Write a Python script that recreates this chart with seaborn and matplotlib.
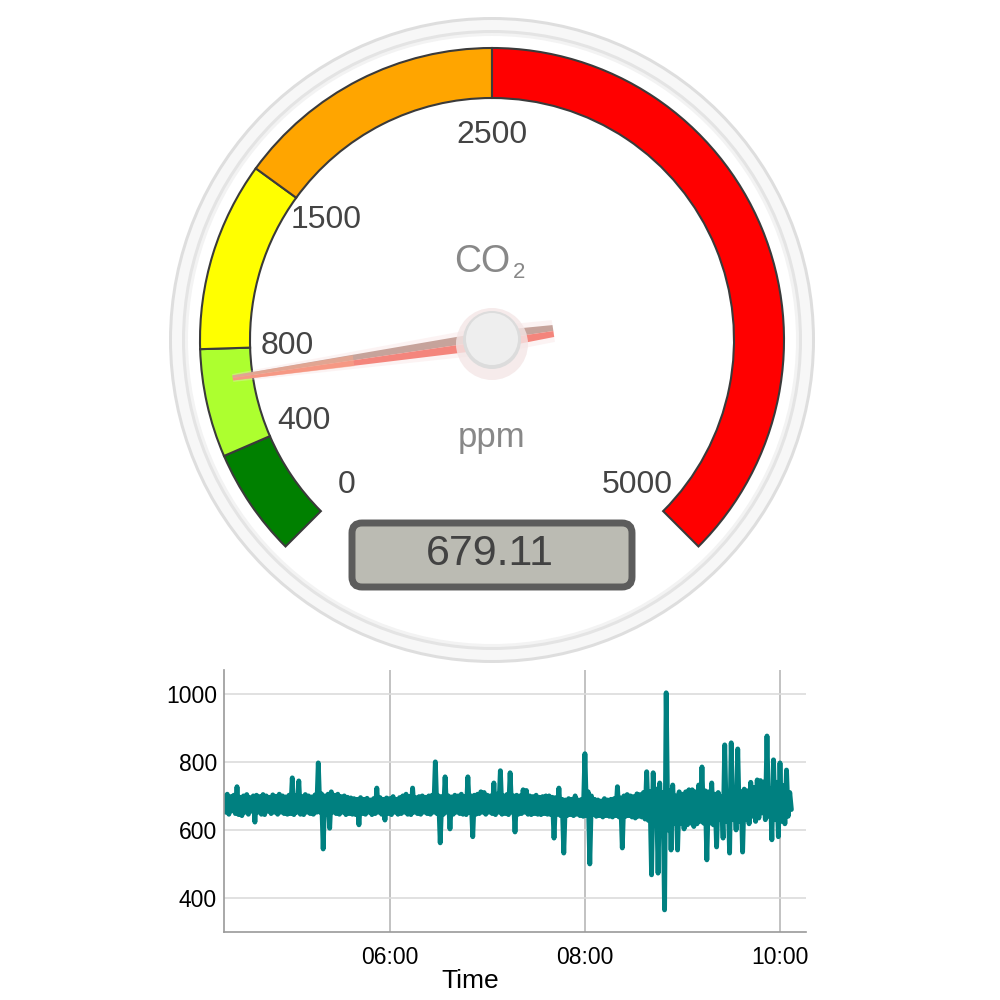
import numpy as np
import pandas as pd
import matplotlib
matplotlib.use("Agg")
import matplotlib.pyplot as plt
import matplotlib.dates as mdates
from matplotlib.patches import Wedge, Circle, Polygon, FancyBboxPatch
import seaborn as sns

# gauge data
band_edges = [0, 400, 800, 1500, 2500, 5000]
band_colors = ["#008000", "#adff2f", "#ffff00", "#ffa500", "#ff0000"]
tick_values = [0, 400, 800, 1500, 2500, 5000]
gauge_min, gauge_max = 0, 5000
current_value = 679.11

# CO2 readings from 04:18, one high and one low reading per 2-minute block
start_time = "2024-01-01 04:18"
co2_high = [
    700, 705, 698, 702, 727, 696, 700, 704, 695, 700,
    702, 698, 704, 700, 696, 703, 699, 705, 700, 697,
    702, 753, 700, 744, 698, 704, 700, 697, 703, 797,
    706, 700, 705, 712, 702, 705, 698, 700, 696, 694,
    692, 690, 695, 690, 693, 688, 692, 723, 695, 690,
    694, 692, 698, 690, 695, 700, 705, 698, 723, 695,
    698, 700, 696, 700, 702, 800, 700, 698, 756, 700,
    697, 702, 700, 705, 698, 756, 700, 702, 705, 712,
    710, 702, 700, 738, 705, 774, 700, 704, 768, 700,
    702, 700, 718, 716, 700, 698, 702, 696, 698, 700,
    700, 696, 695, 723, 690, 688, 692, 690, 700, 688,
    690, 824, 712, 700, 690, 688, 685, 692, 688, 690,
    692, 727, 694, 700, 704, 700, 698, 706, 704, 710,
    771, 712, 768, 720, 738, 710, 1003, 715, 732, 700,
    712, 705, 712, 718, 718, 712, 732, 785, 715, 712,
    738, 705, 710, 697, 850, 712, 856, 715, 838, 712,
    720, 715, 740, 725, 747, 745, 741, 876, 720, 806,
    740, 797, 730, 776, 710,
]
co2_low = [
    652, 646, 656, 648, 645, 642, 652, 646, 655, 623,
    652, 646, 645, 655, 648, 652, 646, 652, 648, 646,
    648, 645, 652, 646, 645, 652, 648, 646, 652, 652,
    544, 646, 605, 652, 648, 646, 652, 645, 648, 646,
    645, 615, 648, 646, 652, 645, 648, 652, 646, 629,
    648, 645, 652, 646, 648, 652, 646, 645, 652, 648,
    646, 652, 648, 646, 652, 648, 562, 646, 652, 603,
    646, 652, 648, 646, 645, 652, 580, 646, 648, 652,
    646, 652, 648, 645, 652, 646, 648, 645, 652, 594,
    646, 648, 652, 646, 645, 648, 646, 645, 648, 646,
    645, 576, 646, 642, 532, 642, 645, 642, 646, 642,
    640, 642, 500, 645, 640, 642, 638, 642, 640, 638,
    642, 638, 547, 640, 642, 638, 635, 640, 638, 632,
    628, 468, 620, 473, 615, 365, 600, 541, 620, 541,
    620, 603, 615, 620, 610, 618, 625, 620, 512, 620,
    615, 550, 630, 576, 625, 532, 630, 600, 625, 535,
    630, 618, 640, 625, 635, 650, 630, 640, 571, 630,
    580, 625, 618, 640, 660,
]
co2_ppm = [v for pair in zip(co2_high, co2_low) for v in pair]
times = pd.date_range(start_time, periods=len(co2_ppm), freq="1min")
df = pd.DataFrame({"Time": times, "CO2": co2_ppm})

sns.set_theme(style="whitegrid")
plt.rcParams["font.family"] = ["Liberation Sans", "DejaVu Sans"]

fig = plt.figure(figsize=(10, 10), dpi=100)

# ---- gauge (pixel-like coordinates, y up) ----
gax = fig.add_axes([0, 0, 1, 1])
gax.set_xlim(0, 1000)
gax.set_ylim(0, 1000)
gax.set_aspect("equal")
gax.axis("off")

cx, cy = 492, 660


def angle_of(v):
    return 225 - (v - gauge_min) / (gauge_max - gauge_min) * 270


# bezel
gax.add_patch(Circle((cx, cy), 323, fc="#dedede", ec="none"))
gax.add_patch(Circle((cx, cy), 320, fc="#f7f7f7", ec="none"))
gax.add_patch(Circle((cx, cy), 310, fc="#e4e4e4", ec="none"))
gax.add_patch(Circle((cx, cy), 307, fc="#f3f3f3", ec="none"))
gax.add_patch(Circle((cx, cy), 304, fc="white", ec="none"))

# colour bands
for lo, hi, col in zip(band_edges[:-1], band_edges[1:], band_colors):
    gax.add_patch(Wedge((cx, cy), 292, angle_of(hi), angle_of(lo), width=50,
                        fc=col, ec="#3a3a3a", lw=1.5))

# tick labels
for v in tick_values:
    a = np.radians(angle_of(v))
    gax.text(cx + 205 * np.cos(a), cy + 205 * np.sin(a), f"{v}",
             ha="center", va="center", fontsize=23, color="#444444")

gax.text(cx - 10, 738, "CO", ha="center", va="center", fontsize=27, color="#888888")
gax.text(cx + 27, 727, "2", ha="center", va="center", fontsize=16, color="#888888")
gax.text(cx, 562, "ppm", ha="center", va="center", fontsize=25, color="#888888")

# value box
gax.add_patch(FancyBboxPatch((352, 413), 280, 64,
                             boxstyle="round,pad=0,rounding_size=10",
                             fc="#bbbbb3", ec="#5c5c5c", lw=5))
gax.text(490, 446, f"{current_value:.2f}", ha="center", va="center",
         fontsize=31, color="#424242")

# needle
a = np.radians(angle_of(current_value))
u = np.array([np.cos(a), np.sin(a)])
n = np.array([-np.sin(a), np.cos(a)])
if n[1] < 0:
    n = -n  # n points upward
c = np.array([cx, cy])
tip = c + 262 * u
tail = c - 62 * u
# soft glow
gax.add_patch(Polygon([tip + 4 * n, c + 14 * n, tail + 11 * n,
                       tail - 11 * n, c - 14 * n, tip - 4 * n],
                      closed=True, fc="#f7dede", ec="none", alpha=0.35))
gax.add_patch(Polygon([tip + 2.5 * n, c + 9 * n, tail + 6 * n, tail, tip],
                      closed=True, fc="#c6a39b", ec="none"))
gax.add_patch(Polygon([tip - 2.5 * n, c - 9 * n, tail - 6 * n, tail, tip],
                      closed=True, fc="#f4857c", ec="none"))
# orange tint toward the tip
mid = c + 140 * u
gax.add_patch(Polygon([tip + 2.5 * n, mid + 5 * n, mid - 6 * n, tip - 2.5 * n],
                      closed=True, fc="#f8a88c", ec="none", alpha=0.55))

# hub
gax.add_patch(Circle((cx, cy - 4), 36, fc="#f4e6e6", ec="none", alpha=0.8))
gax.add_patch(Circle((cx, cy), 29, fc="#dcdcdc", ec="none"))
gax.add_patch(Circle((cx, cy + 1), 26, fc="#eeeeee", ec="none"))

# ---- time series ----
ax = fig.add_axes([0.224, 0.068, 0.582, 0.262])
sns.lineplot(data=df, x="Time", y="CO2", ax=ax, color="#008080", linewidth=3.5)
ax.set_xlim(pd.Timestamp("2024-01-01 04:18"), pd.Timestamp("2024-01-01 10:16"))
ax.set_ylim(300, 1070)
ax.set_yticks([400, 600, 800, 1000])
ax.xaxis.set_major_locator(mdates.HourLocator(byhour=[6, 8, 10]))
ax.xaxis.set_major_formatter(mdates.DateFormatter("%H:%M"))
ax.set_xlabel("Time", fontsize=19, color="black")
ax.xaxis.set_label_coords(0.423, -0.14)
ax.set_ylabel("")
ax.set_facecolor("white")
ax.grid(axis="y", color="#dcdcdc", lw=1.2)
ax.grid(axis="x", color="#b8b8b8", lw=1.2)
for side in ["top", "right"]:
    ax.spines[side].set_visible(False)
for side in ["left", "bottom"]:
    ax.spines[side].set_color("#999999")
    ax.spines[side].set_linewidth(1.2)
ax.tick_params(axis="both", labelsize=16.5, colors="black", length=0)
ax.tick_params(axis="x", pad=10)
ax.tick_params(axis="y", pad=5)

fig.savefig("out.png", dpi=100)
